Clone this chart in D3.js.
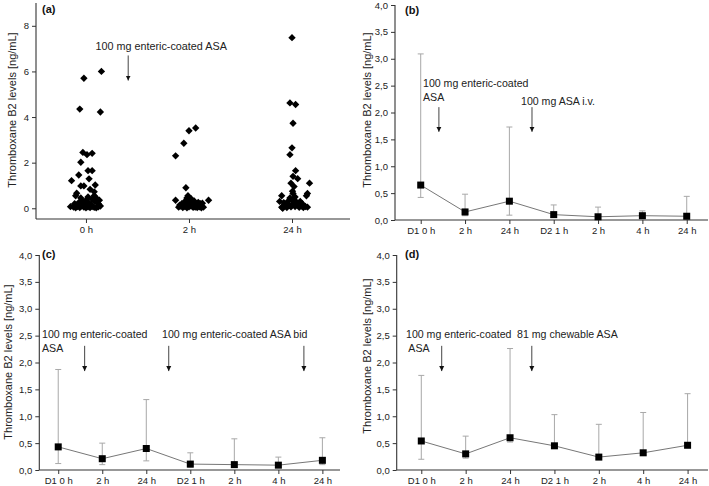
<!DOCTYPE html>
<html><head><meta charset="utf-8">
<script src="https://cdn.jsdelivr.net/npm/d3@7"></script>
<style>
html,body{margin:0;padding:0;background:#fff;}
svg{display:block;font-family:"Liberation Sans",Arial,sans-serif;}
</style></head>
<body><svg id="c" width="709" height="486"></svg>
<script>
// ---------- DATA ----------
const scatterCategories = ["0 h", "2 h", "24 h"];
// [jitter (category units), value ng/mL]
const scatter0h = [[-0.02,5.7],[0.15,6.0],[-0.06,4.35],[0.14,4.22],[-0.03,2.45],[0.01,2.35],[0.06,2.41],[-0.05,2.02],[-0.07,1.46],[0.02,1.65],[0.06,1.65],[-0.14,1.21],[0.03,1.29],[0.09,1.02],[-0.05,0.98],[-0.02,0.98],[-0.09,0.66],[-0.10,0.55],[0.04,0.83],[0.08,0.72],
 [-0.12,0.05],[-0.10,0.02],[-0.08,0.08],[-0.06,0.03],[-0.04,0.1],[-0.02,0.05],[0.0,0.02],[0.02,0.06],[0.04,0.03],[0.06,0.08],[0.08,0.04],[0.10,0.02],[0.12,0.06],[0.14,0.1],[-0.15,0.07],
 [-0.11,0.2],[-0.07,0.25],[-0.03,0.3],[0.0,0.35],[0.03,0.22],[0.06,0.4],[0.09,0.3],[0.12,0.2],[-0.05,0.45],[0.02,0.5],[0.08,0.55],[-0.01,0.15],[0.05,0.18],[0.1,0.45],[0.13,0.35],[-0.09,0.12]];
const scatter2h = [[-0.13,2.3],[-0.05,2.85],[0.0,3.4],[0.065,3.52],[-0.03,0.9],[-0.13,0.35],[0.19,0.35],
 [-0.1,0.05],[-0.08,0.1],[-0.06,0.03],[-0.04,0.08],[-0.02,0.02],[0.0,0.06],[0.02,0.1],[0.04,0.04],[0.06,0.08],[0.08,0.03],[0.1,0.06],[0.12,0.1],[0.14,0.05],
 [-0.07,0.2],[-0.04,0.3],[-0.02,0.45],[-0.01,0.55],[0.01,0.38],[0.03,0.25],[0.05,0.32],[0.07,0.18],[0.09,0.26],[0.11,0.2],[0.13,0.22],[-0.05,0.15],[0.0,0.2],[0.04,0.15],[0.08,0.12],[-0.09,0.14],[0.02,0.42],[0.06,0.05],[0.1,0.14],[0.12,0.02],[-0.03,0.12]];
const scatter24h = [[0.0,7.48],[-0.02,4.62],[0.035,4.55],[0.01,3.73],[0.0,2.65],[-0.02,2.35],[0.035,1.65],[0.01,1.4],[0.055,1.3],[-0.01,1.1],[0.17,1.1],[0.02,0.95],[0.005,0.75],[0.01,0.65],[0.15,0.65],[0.14,0.55],[-0.1,0.55],[-0.12,0.3],
 [-0.1,0.05],[-0.07,0.1],[-0.05,0.03],[-0.03,0.12],[-0.01,0.06],[0.01,0.2],[0.03,0.08],[0.05,0.15],[0.07,0.04],[0.09,0.1],[0.11,0.03],[0.13,0.08],[0.15,0.05],
 [-0.08,0.25],[-0.04,0.3],[0.0,0.35],[0.02,0.4],[0.04,0.28],[0.06,0.22],[-0.02,0.45],[0.08,0.3],[-0.06,0.18],[0.03,0.5],[0.1,0.2],[-0.09,0.0]];
const scatterYTicks = [0, 2, 4, 6, 8];

const timeLabels = ["D1 0 h", "2 h", "24 h", "D2 1 h", "2 h", "4 h", "24 h"];
const lineYTicks = [0, 0.5, 1, 1.5, 2, 2.5, 3, 3.5, 4];

const bMedian = [0.65, 0.15, 0.35, 0.10, 0.06, 0.08, 0.07];
const bUpper  = [3.09, 0.48, 1.73, 0.28, 0.24, 0.17, 0.44];
const bLower  = [0.42, 0.08, 0.09, 0.05, 0.03, 0.05, 0.03];

const cMedian = [0.43, 0.21, 0.40, 0.11, 0.10, 0.09, 0.18];
const cUpper  = [1.87, 0.50, 1.31, 0.32, 0.58, 0.24, 0.60];
const cLower  = [0.12, 0.10, 0.17, 0.05, 0.05, 0.05, 0.10];

const dMedian = [0.54, 0.30, 0.60, 0.45, 0.24, 0.32, 0.46];
const dUpper  = [1.76, 0.63, 2.26, 1.03, 0.85, 1.07, 1.42];
const dLower  = [0.20, 0.22, 0.52, 0.42, 0.20, 0.28, 0.42];

const yTitle = "Thromboxane B2 levels [ng/mL]";

// ---------- DRAW ----------
const svg = d3.select("#c");
const fmtComma = d => d.toFixed(1).replace(".", ",");
const ANN = 10.6;

svg.append("defs").append("marker")
  .attr("id","arr").attr("viewBox","0 0 10 10").attr("refX",10).attr("refY",5)
  .attr("markerWidth",5).attr("markerHeight",6).attr("markerUnits","userSpaceOnUse").attr("orient","auto")
  .append("path").attr("d","M0,0L10,5L0,10Z").attr("fill","#111");

function styleAxis(g){
  g.selectAll(".domain").attr("stroke","#333").attr("stroke-width",1.1);
  g.selectAll(".tick line").attr("stroke","#333").attr("stroke-width",1);
  g.selectAll(".tick text").attr("fill","#222").attr("font-size",9.5);
}

function drawAxes(x, y, xTicks, xFmt, yTicks, yFmt, titleX, titleY){
  const gx = svg.append("g").attr("transform",`translate(0,${y.range()[0]})`)
    .call(d3.axisBottom(x).tickValues(xTicks).tickFormat(xFmt).tickSize(4).tickSizeOuter(0).tickPadding(3));
  gx.select(".domain").attr("d",`M${x.range()[0]},0H${x.range()[1]}`);
  styleAxis(gx);
  const gy = svg.append("g").attr("transform",`translate(${x.range()[0]},0)`)
    .call(d3.axisLeft(y).tickValues(yTicks).tickFormat(yFmt).tickSize(4).tickSizeOuter(0).tickPadding(3));
  gy.select(".domain").attr("d",`M0,${y.range()[0]}V${y.range()[1]}`);
  styleAxis(gy);
  svg.append("text").attr("transform",`translate(${titleX},${titleY}) rotate(-90)`)
    .attr("text-anchor","middle").attr("dominant-baseline","central")
    .attr("font-size",11).attr("fill","#222").text(yTitle);
}

function label(txt, px, py){
  svg.append("text").attr("x",px).attr("y",py).attr("font-size",11).attr("font-weight","bold").attr("fill","#111").text(txt);
}
function annot(lines, px, py){
  const t = svg.append("text").attr("x",px).attr("y",py).attr("font-size",ANN).attr("fill","#222");
  lines.forEach((l,i)=> t.append("tspan").attr("x",px).attr("dy", i===0?0:14).text(l));
}
function arrow(x, y, xv, y0, y1){
  svg.append("line").attr("x1",x(xv)).attr("x2",x(xv)).attr("y1",y(y0)).attr("y2",y(y1))
    .attr("stroke","#444").attr("stroke-width",1).attr("marker-end","url(#arr)");
}

// ---- panel (a)
{
  const x = d3.scaleLinear().domain([-0.485, 2.563]).range([36, 350]);
  const y = d3.scaleLinear().domain([-0.47, 9]).range([219, 3]);
  drawAxes(x, y, [0,1,2], i => scatterCategories[i], scatterYTicks, d3.format("d"), 12, 110);
  const sym = d3.symbol(d3.symbolSquare, 27);
  [scatter0h, scatter2h, scatter24h].forEach((grp, gi) => {
    svg.append("g").selectAll("path").data(grp).join("path")
      .attr("d", sym)
      .attr("transform", d => `translate(${x(gi + d[0])},${y(d[1])}) rotate(45)`)
      .attr("fill","#000");
  });
  label("(a)", 42, 13);
  svg.append("text").attr("x", x(0.73)).attr("y", 50).attr("text-anchor","middle")
    .attr("font-size",10.8).attr("fill","#222").text("100 mg enteric-coated ASA");
  arrow(x, y, 0.41, 6.7, 5.6);
}

function linePanel(x, y, med, up, lo, titleX, titleY){
  drawAxes(x, y, d3.range(7), i => timeLabels[i], lineYTicks, fmtComma, titleX, titleY);
  const idx = d3.range(med.length);
  const eb = svg.append("g").attr("stroke","#a8a8a8").attr("stroke-width",1);
  idx.forEach(i => {
    eb.append("line").attr("x1",x(i)).attr("x2",x(i)).attr("y1",y(lo[i])).attr("y2",y(up[i]));
    eb.append("line").attr("x1",x(i)-3).attr("x2",x(i)+3).attr("y1",y(up[i])).attr("y2",y(up[i]));
    eb.append("line").attr("x1",x(i)-3).attr("x2",x(i)+3).attr("y1",y(lo[i])).attr("y2",y(lo[i]));
  });
  svg.append("path").datum(idx)
    .attr("d", d3.line().x(i => x(i)).y(i => y(med[i])))
    .attr("fill","none").attr("stroke","#777").attr("stroke-width",1);
  svg.append("g").selectAll("rect").data(idx).join("rect")
    .attr("x", i => x(i)-3.5).attr("y", i => y(med[i])-3.5)
    .attr("width",7).attr("height",7).attr("fill","#000");
}

// ---- panel (b)
{
  const x = d3.scaleLinear().domain([-0.58, 6.48]).range([395, 708]);
  const y = d3.scaleLinear().domain([0, 4]).range([220, 5]);
  linePanel(x, y, bMedian, bUpper, bLower, 367, 110);
  label("(b)", 405, 14);
  annot(["100 mg enteric-coated","ASA"], 423, 87);
  annot(["100 mg ASA i.v."], 521, 105);
  arrow(x, y, 0.41, 2.1, 1.64);
  arrow(x, y, 2.51, 2.1, 1.64);
}

// ---- panel (c)
{
  const x = d3.scaleLinear().domain([-0.43, 6.4]).range([39.3, 340]);
  const y = d3.scaleLinear().domain([0, 4]).range([470, 255]);
  linePanel(x, y, cMedian, cUpper, cLower, 8, 362);
  label("(c)", 42, 258);
  annot(["100 mg enteric-coated","ASA"], 42, 338);
  annot(["100 mg enteric-coated ASA bid"], 162, 338);
  arrow(x, y, 0.6, 2.31, 1.84);
  arrow(x, y, 2.51, 2.31, 1.84);
  arrow(x, y, 5.58, 2.31, 1.84);
}

// ---- panel (d)
{
  const x = d3.scaleLinear().domain([-0.554, 6.46]).range([396.7, 708]);
  const y = d3.scaleLinear().domain([0, 4]).range([470, 255]);
  linePanel(x, y, dMedian, dUpper, dLower, 367, 356);
  label("(d)", 405, 258);
  annot(["100 mg enteric-coated"," ASA"], 406, 338);
  annot(["81 mg chewable ASA"], 517, 338);
  arrow(x, y, 0.46, 2.31, 1.84);
  arrow(x, y, 2.49, 2.31, 1.84);
}
</script></body></html>
